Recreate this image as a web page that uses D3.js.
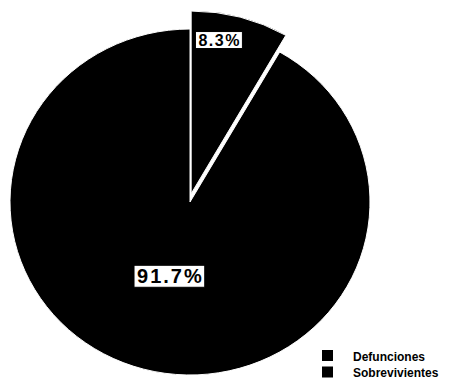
<!DOCTYPE html>
<html>
<head>
<meta charset="utf-8">
<script src="https://cdn.jsdelivr.net/npm/d3@7/dist/d3.min.js"></script>
<style>
  html, body { margin: 0; padding: 0; background: #fff; }
  svg { display: block; }
  .lbl { font-family: "Liberation Sans", Arial, sans-serif; font-weight: bold; fill: #000; }
  .leg { font-family: "Liberation Sans", Arial, sans-serif; font-weight: bold; font-size: 12px; fill: #000; }
</style>
</head>
<body>
<script>
// Outcome of the cohort
const categories = ["Defunciones", "Sobrevivientes"];
const values = [8.3, 91.7];
const valueLabels = ["8.3%", "91.7%"];
const colors = ["#000", "#000"];

const W = 455, H = 389;
const svg = d3.select("body").append("svg").attr("width", W).attr("height", H);

const cx = 190, cy = 202, R = 180, squash = 0.961;

const pie = d3.pie().sort(null).value(d => d.value).startAngle(0);
const arcs = pie(categories.map((c, i) => ({ name: c, value: values[i], label: valueLabels[i] })));

const g = svg.append("g").attr("transform", `translate(${cx},${cy}) scale(1,${squash})`);

const arcMain = d3.arc().innerRadius(0).outerRadius(R);
const arcOut = d3.arc().innerRadius(0).outerRadius(R + 10);

// Slice of deaths is pulled out from the rest of the pie
const explode = 9;
arcs.forEach((a, i) => {
  const mid = (a.startAngle + a.endAngle) / 2;
  const off = i === 0 ? explode : 0;
  g.append("path")
    .attr("d", i === 0 ? arcOut(a) : arcMain(a))
    .attr("transform", `translate(${Math.sin(mid) * off * 0.5},${-Math.cos(mid) * off})`)
    .attr("fill", colors[i])
    .attr("stroke", "#fff")
    .attr("stroke-width", 1)
    .attr("stroke-linejoin", "miter");
});

// Value labels in white boxes
const labelPos = [
  { angle: 0.17, r: 171, size: 16, spacing: 1.5 },
  { angle: null, r: 80, size: 20, spacing: 2 }
];
arcs.forEach((a, i) => {
  const p = labelPos[i];
  const ang = p.angle === null ? (a.startAngle + a.endAngle) / 2 : p.angle;
  const x = cx + Math.sin(ang) * p.r;
  const y = cy - Math.cos(ang) * p.r * squash;
  const t = svg.append("text")
    .attr("class", "lbl")
    .attr("x", x + p.spacing / 2).attr("y", y)
    .attr("text-anchor", "middle")
    .attr("dominant-baseline", "central")
    .attr("font-size", p.size)
    .attr("letter-spacing", p.spacing)
    .text(a.data.label);
  const bb = t.node().getBBox();
  svg.insert("rect", "text")
    .attr("x", bb.x - 3).attr("y", bb.y)
    .attr("width", bb.width + 6 - p.spacing).attr("height", bb.height)
    .attr("fill", "#fff")
    .attr("stroke", "#000")
    .attr("stroke-width", 1);
});

// Legend
const leg = svg.append("g").attr("transform", "translate(322,350)");
categories.forEach((c, i) => {
  const row = leg.append("g").attr("transform", `translate(0,${i * 16.5})`);
  row.append("rect").attr("width", 11).attr("height", 11).attr("fill", colors[i]);
  row.append("text").attr("class", "leg").attr("x", 31).attr("y", 10.5).text(c);
});
</script>
</body>
</html>
